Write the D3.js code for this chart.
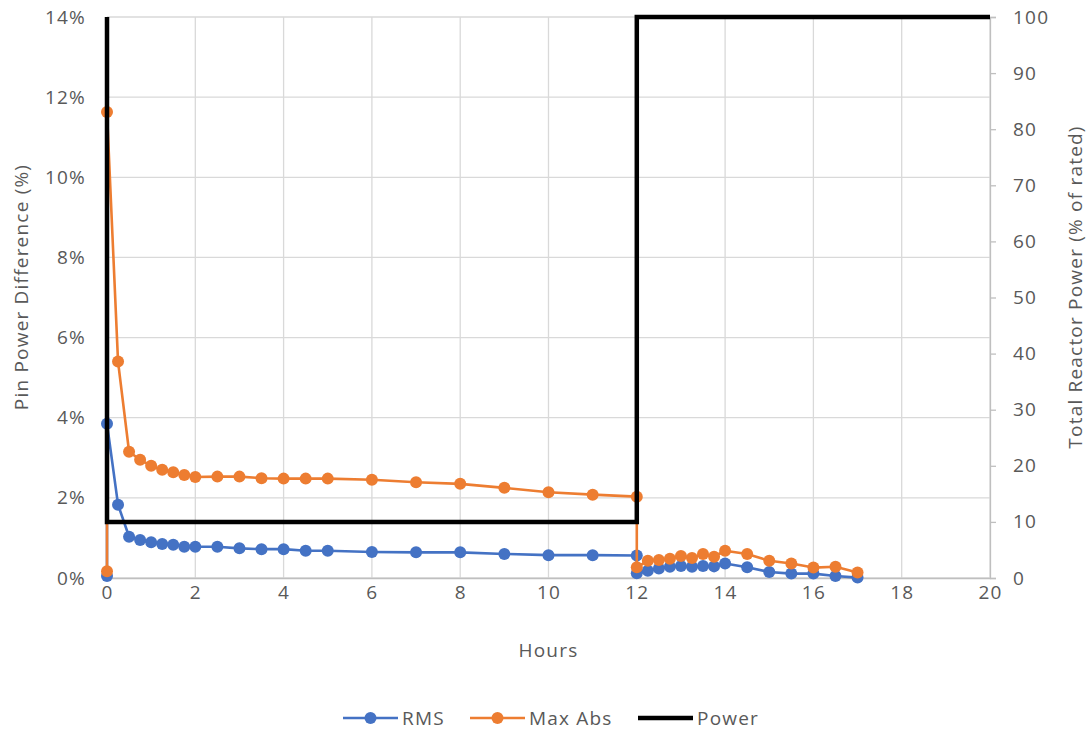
<!DOCTYPE html>
<html>
<head>
<meta charset="utf-8">
<script src="https://cdn.jsdelivr.net/npm/d3@7"></script>
<style>
  html, body { margin: 0; padding: 0; background: #fff; }
  svg text { font-family: "Open Sans", "DejaVu Sans", sans-serif; fill: #595959; letter-spacing: 1.2px; }
</style>
</head>
<body>
<svg id="chart" width="1089" height="730"></svg>
<script>
// Elapsed time (hours) for each pin-power comparison
const hours = [0, 0, 0.25, 0.5, 0.75, 1, 1.25, 1.5, 1.75, 2, 2.5, 3, 3.5, 4, 4.5, 5, 6, 7, 8, 9, 10, 11, 12,
               12, 12.25, 12.5, 12.75, 13, 13.25, 13.5, 13.75, 14, 14.5, 15, 15.5, 16, 16.5, 17];
// RMS pin power difference (%)
const rms = [0.05, 3.85, 1.83, 1.03, 0.95, 0.89, 0.85, 0.83, 0.78, 0.78, 0.78, 0.74, 0.72, 0.72, 0.68, 0.68, 0.65, 0.64, 0.64, 0.60, 0.57, 0.57, 0.56,
             0.12, 0.18, 0.24, 0.28, 0.30, 0.28, 0.30, 0.29, 0.36, 0.27, 0.15, 0.11, 0.11, 0.05, 0.01];
// Maximum absolute pin power difference (%)
const maxAbs = [0.17, 11.63, 5.40, 3.15, 2.95, 2.80, 2.70, 2.64, 2.57, 2.52, 2.53, 2.53, 2.49, 2.48, 2.48, 2.48, 2.45, 2.39, 2.35, 2.25, 2.14, 2.08, 2.03,
                0.27, 0.43, 0.45, 0.48, 0.55, 0.50, 0.60, 0.53, 0.68, 0.60, 0.43, 0.36, 0.26, 0.28, 0.14];
// Total reactor power history (% of rated)
const powerHours = [0, 0, 12, 12, 20];
const powerLevel = [100, 10, 10, 100, 100];

const xTicks = [0, 2, 4, 6, 8, 10, 12, 14, 16, 18, 20];
const yLeftTicks = [0, 0.02, 0.04, 0.06, 0.08, 0.10, 0.12, 0.14];
const yRightTicks = [0, 10, 20, 30, 40, 50, 60, 70, 80, 90, 100];

const seriesNames = ["RMS", "Max Abs", "Power"];
const colors = { "RMS": "#4472C4", "Max Abs": "#ED7D31", "Power": "#000000" };

const svg = d3.select("#chart");
const m = { left: 107, right: 99, top: 17, bottom: 152 };
const W = 1089, H = 730;
const iw = W - m.left - m.right, ih = H - m.top - m.bottom;

const x = d3.scaleLinear().domain([0, 20]).range([m.left, m.left + iw]);
const yL = d3.scaleLinear().domain([0, 0.14]).range([m.top + ih, m.top]);
const yR = d3.scaleLinear().domain([0, 100]).range([m.top + ih, m.top]);

const fs = 19;

const grid = svg.append("g");
// horizontal gridlines
grid.selectAll("line.h").data(yLeftTicks).join("line")
  .attr("x1", x(0)).attr("x2", x(20))
  .attr("y1", d => yL(d)).attr("y2", d => yL(d))
  .attr("stroke", "#d9d9d9").attr("stroke-width", 1.3);
// vertical gridlines
grid.selectAll("line.v").data(xTicks).join("line")
  .attr("x1", d => x(d)).attr("x2", d => x(d))
  .attr("y1", yL(0)).attr("y2", yL(0.14))
  .attr("stroke", "#d9d9d9").attr("stroke-width", 1.3);

// bottom axis
const xAxis = d3.axisBottom(x).tickValues(xTicks).tickSize(0).tickPadding(8).tickFormat(d3.format("d"));
const gx = svg.append("g").attr("transform", `translate(0,${yL(0)})`).call(xAxis);
gx.select(".domain").attr("stroke", "#bfbfbf").attr("stroke-width", 1.3);
gx.selectAll("text").attr("font-size", fs).attr("fill", "#595959");

// left axis
const yAxisL = d3.axisLeft(yL).tickValues(yLeftTicks).tickSize(0).tickPadding(21).tickFormat(d3.format(".0%"));
const gyl = svg.append("g").attr("transform", `translate(${x(0)},0)`).call(yAxisL);
gyl.select(".domain").remove();
gyl.selectAll("text").attr("font-size", fs).attr("fill", "#595959");

// right axis
const yAxisR = d3.axisRight(yR).tickValues(yRightTicks).tickSize(6).tickPadding(17);
const gyr = svg.append("g").attr("transform", `translate(${x(20)},0)`).call(yAxisR);
gyr.select(".domain").attr("stroke", "#bfbfbf").attr("stroke-width", 1.3);
gyr.selectAll(".tick line").attr("stroke", "#bfbfbf").attr("stroke-width", 1.3);
gyr.selectAll("text").attr("font-size", fs).attr("fill", "#595959");
[gx, gyl, gyr].forEach(g => g.attr("font-family", null).attr("font-size", null));

// axis titles
const titleMid = 287;
svg.append("text").attr("x", x(10)).attr("y", 657).attr("text-anchor", "middle")
  .attr("font-size", fs).text("Hours");
svg.append("text").attr("transform", `translate(28,${titleMid}) rotate(-90)`)
  .attr("text-anchor", "middle").attr("font-size", fs).text("Pin Power Difference (%)");
svg.append("text").attr("transform", `translate(1082,${titleMid}) rotate(-90)`)
  .attr("text-anchor", "middle").attr("font-size", fs).text("Total Reactor Power (% of rated)");

// data series
const lineL = d3.line().x(d => x(d[0])).y(d => yL(d[1]));
function drawSeries(name, vals) {
  const pts = hours.map((h, i) => [h, vals[i] / 100]);
  const g = svg.append("g");
  g.append("path").datum(pts).attr("d", lineL)
    .attr("fill", "none").attr("stroke", colors[name]).attr("stroke-width", 2.6)
    .attr("stroke-linejoin", "round");
  g.selectAll("circle").data(pts).join("circle")
    .attr("cx", d => x(d[0])).attr("cy", d => yL(d[1])).attr("r", 6)
    .attr("fill", colors[name]);
}
drawSeries("RMS", rms);
drawSeries("Max Abs", maxAbs);

// power history on the secondary axis
const powerPts = powerHours.map((h, i) => [h, powerLevel[i]]);
svg.append("path").datum(powerPts)
  .attr("d", d3.line().x(d => x(d[0])).y(d => yR(d[1])))
  .attr("fill", "none").attr("stroke", colors["Power"]).attr("stroke-width", 4.5)
  .attr("stroke-linejoin", "miter");

// legend
const legendY = 718;
const legendX = [343, 470, 638];
const leg = svg.append("g");
seriesNames.forEach((name, i) => {
  const lx = legendX[i];
  const g = leg.append("g");
  g.append("line").attr("x1", lx).attr("x2", lx + 55).attr("y1", legendY).attr("y2", legendY)
    .attr("stroke", colors[name]).attr("stroke-width", name === "Power" ? 4.5 : 2.6);
  if (name !== "Power") {
    g.append("circle").attr("cx", lx + 27.5).attr("cy", legendY).attr("r", 6).attr("fill", colors[name]);
  }
  g.append("text").attr("x", lx + 59).attr("y", legendY).attr("dy", "0.35em")
    .attr("font-size", fs).text(name);
});
</script>
</body>
</html>
